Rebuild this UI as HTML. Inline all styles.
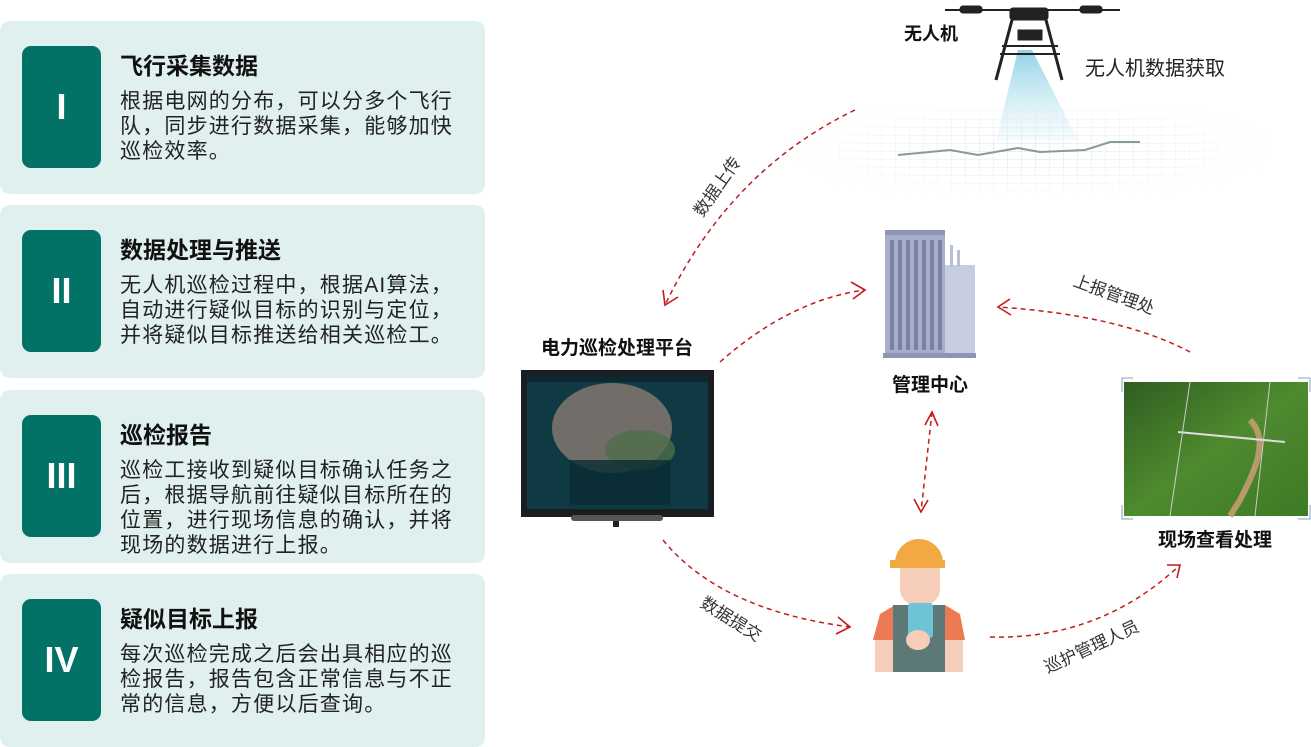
<!DOCTYPE html>
<html><head><meta charset="utf-8"><style>
body{margin:0;width:1311px;height:747px;background:#fff;position:relative;overflow:hidden;font-family:"Liberation Sans","Noto Sans CJK SC",sans-serif}
.card{position:absolute;left:0;width:485px;height:173px;background:#dff0ee;border-radius:10px}
.badge{position:absolute;left:22px;top:25px;width:79px;height:122px;background:#027166;border-radius:9px;color:#fff;font-weight:bold;font-size:36px;display:flex;align-items:center;justify-content:center;font-family:"Liberation Sans",sans-serif}
.t{position:absolute;left:120px;top:31px;font-size:23px;font-weight:bold;color:#111;line-height:28px}
.b{position:absolute;left:120px;top:68px;width:345px;font-size:21px;color:#222;line-height:25px;letter-spacing:1.2px}
</style></head><body>
<div class="card" style="top:21px"><div class="badge">I</div><div class="t">飞行采集数据</div><div class="b">根据电网的分布，可以分多个飞行队，同步进行数据采集，能够加快巡检效率。</div></div>
<div class="card" style="top:205px"><div class="badge">II</div><div class="t">数据处理与推送</div><div class="b">无人机巡检过程中，根据AI算法，自动进行疑似目标的识别与定位，并将疑似目标推送给相关巡检工。</div></div>
<div class="card" style="top:390px"><div class="badge">III</div><div class="t">巡检报告</div><div class="b">巡检工接收到疑似目标确认任务之后，根据导航前往疑似目标所在的位置，进行现场信息的确认，并将现场的数据进行上报。</div></div>
<div class="card" style="top:574px"><div class="badge">IV</div><div class="t">疑似目标上报</div><div class="b">每次巡检完成之后会出具相应的巡检报告，报告包含正常信息与不正常的信息，方便以后查询。</div></div>

<svg width="1311" height="747" style="position:absolute;left:0;top:0" font-family="Liberation Sans, Noto Sans CJK SC, sans-serif">
<defs>
<linearGradient id="beam" x1="0" y1="0" x2="0" y2="1"><stop offset="0" stop-color="#7cc9e0"/><stop offset="1" stop-color="#d8f0f7" stop-opacity="0.3"/></linearGradient>
<radialGradient id="gridfade" cx="0.5" cy="0.5" r="0.5"><stop offset="0" stop-color="#fff" stop-opacity="0"/><stop offset="1" stop-color="#fff" stop-opacity="1"/></radialGradient>
<pattern id="grid" width="14" height="8" patternUnits="userSpaceOnUse"><path d="M14 0V8M0 8H14" stroke="#d6dbe0" stroke-width="1" fill="none"/></pattern>
<linearGradient id="forest" x1="0" y1="0" x2="1" y2="1"><stop offset="0" stop-color="#2f5e22"/><stop offset=".5" stop-color="#4e8a2e"/><stop offset="1" stop-color="#3c7a26"/></linearGradient>
</defs>
<rect x="790" y="105" width="480" height="90" fill="url(#grid)"/>
<rect x="780" y="95" width="500" height="110" fill="url(#gridfade)"/>
<polyline points="898,155 950,150 978,155 1018,148 1040,152 1085,150 1110,142 1140,142" fill="none" stroke="#8a9a9c" stroke-width="2"/>
<polygon points="1018,50 1032,50 1078,140 996,140" fill="url(#beam)" opacity=".85"/>
<g stroke="#222" fill="#222">
<line x1="945" y1="10" x2="1120" y2="10" stroke-width="2"/>
<rect x="960" y="6" width="22" height="7" rx="3"/><rect x="1080" y="6" width="22" height="7" rx="3"/>
<rect x="1010" y="8" width="38" height="12" rx="3"/>
<rect x="1018" y="30" width="24" height="10"/>
<line x1="1012" y1="20" x2="996" y2="80" stroke-width="3"/>
<line x1="1046" y1="20" x2="1062" y2="80" stroke-width="3"/>
<line x1="1002" y1="46" x2="1058" y2="46" stroke-width="2"/>
<line x1="1000" y1="54" x2="1060" y2="54" stroke-width="2"/>
</g>
<text x="904" y="40" font-size="18" font-weight="bold" fill="#111">无人机</text>
<text x="1085" y="75" font-size="20" fill="#222">无人机数据获取</text>
<rect x="885" y="230" width="60" height="128" fill="#a6aec9"/>
<rect x="885" y="230" width="60" height="5" fill="#8d95b3"/>
<g fill="#7b83a4">
<rect x="890" y="240" width="4" height="110"/><rect x="898" y="240" width="4" height="110"/><rect x="906" y="240" width="4" height="110"/><rect x="914" y="240" width="4" height="110"/><rect x="922" y="240" width="4" height="110"/><rect x="930" y="240" width="4" height="110"/><rect x="938" y="240" width="4" height="110"/>
</g>
<rect x="945" y="265" width="30" height="93" fill="#c6cde0"/>
<rect x="950" y="245" width="3" height="22" fill="#b8bfd5"/><rect x="957" y="250" width="3" height="17" fill="#b8bfd5"/>
<rect x="883" y="353" width="93" height="5" fill="#8d95b3"/>
<text x="930" y="391" font-size="19" font-weight="bold" fill="#111" text-anchor="middle">管理中心</text>
<text x="617" y="354" font-size="19" font-weight="bold" fill="#111" text-anchor="middle">电力巡检处理平台</text>
<rect x="521" y="370" width="193" height="147" fill="#1a1d22"/>
<rect x="527" y="376" width="181" height="133" fill="#0f3a44"/>
<ellipse cx="612" cy="428" rx="60" ry="45" fill="#8a7b72" opacity=".8"/>
<ellipse cx="640" cy="450" rx="35" ry="20" fill="#4f6d4a" opacity=".8"/>
<rect x="527" y="376" width="181" height="6" fill="#0a2a30"/>
<rect x="570" y="460" width="100" height="45" fill="#0a2c33" opacity=".8"/>
<rect x="613" y="517" width="6" height="10" fill="#222"/>
<rect x="571" y="515" width="92" height="6" rx="3" fill="#555"/>
<rect x="1124" y="382" width="184" height="134" fill="url(#forest)"/>
<path d="M1250,420 C1270,440 1255,470 1240,500 L1230,516" stroke="#b89a6a" stroke-width="6" fill="none"/>
<line x1="1178" y1="432" x2="1285" y2="442" stroke="#ddd" stroke-width="2"/>
<line x1="1190" y1="382" x2="1170" y2="516" stroke="#ccc" stroke-width="1"/>
<line x1="1270" y1="382" x2="1255" y2="516" stroke="#ccc" stroke-width="1"/>
<path d="M1122,392V378H1133M1298,378H1310V392M1122,505V519H1133M1298,519H1310V505" stroke="#8aa0b8" fill="none"/>
<text x="1215" y="546" font-size="19" font-weight="bold" fill="#111" text-anchor="middle">现场查看处理</text>
<path d="M873,640 L880,614 L895,605 L945,605 L960,614 L965,640 Z" fill="#ec7a55"/>
<rect x="875" y="640" width="88" height="32" fill="#f6cdb9"/>
<rect x="893" y="605" width="52" height="67" fill="#5c7877"/>
<rect x="900" y="555" width="40" height="50" rx="16" fill="#f6cdb9"/>
<path d="M895,563 A24,24 0 0 1 943,563 Z" fill="#f2a944"/>
<rect x="890" y="560" width="55" height="8" fill="#f2a944"/>
<rect x="908" y="603" width="25" height="35" rx="3" fill="#6ec4d6"/>
<ellipse cx="918" cy="640" rx="12" ry="10" fill="#f6cdb9"/>
<g fill="none" stroke="#c41a1a" stroke-width="1.5" stroke-dasharray="5,4">
<path d="M855,110 Q730,170 665,305"/>
<path d="M720,362 Q790,300 865,290"/>
<path d="M1190,352 Q1120,315 998,307"/>
<path d="M932,412 L921,512"/>
<path d="M663,540 Q720,610 850,627"/>
<path d="M990,637 Q1100,640 1180,565"/>
</g>
<g fill="none" stroke="#c41a1a" stroke-width="1.6">
<path d="M663,290 L665,305 L678,297"/>
<path d="M851,282 L865,290 L853,299"/>
<path d="M1010,299 L998,307 L1011,315"/>
<path d="M925,425 L932,412 L938,426"/>
<path d="M914,499 L921,512 L928,500"/>
<path d="M838,617 L850,627 L836,634"/>
<path d="M1167,565 L1180,565 L1177,578"/>
</g>
<g font-size="17" fill="#333">
<text transform="translate(722,190) rotate(-55)" text-anchor="middle">数据上传</text>
<text transform="translate(1112,300) rotate(20)" text-anchor="middle">上报管理处</text>
<text transform="translate(728,624) rotate(32)" text-anchor="middle">数据提交</text>
<text transform="translate(1094,652) rotate(-25)" text-anchor="middle">巡护管理人员</text>
</g>
</svg>
</body></html>
